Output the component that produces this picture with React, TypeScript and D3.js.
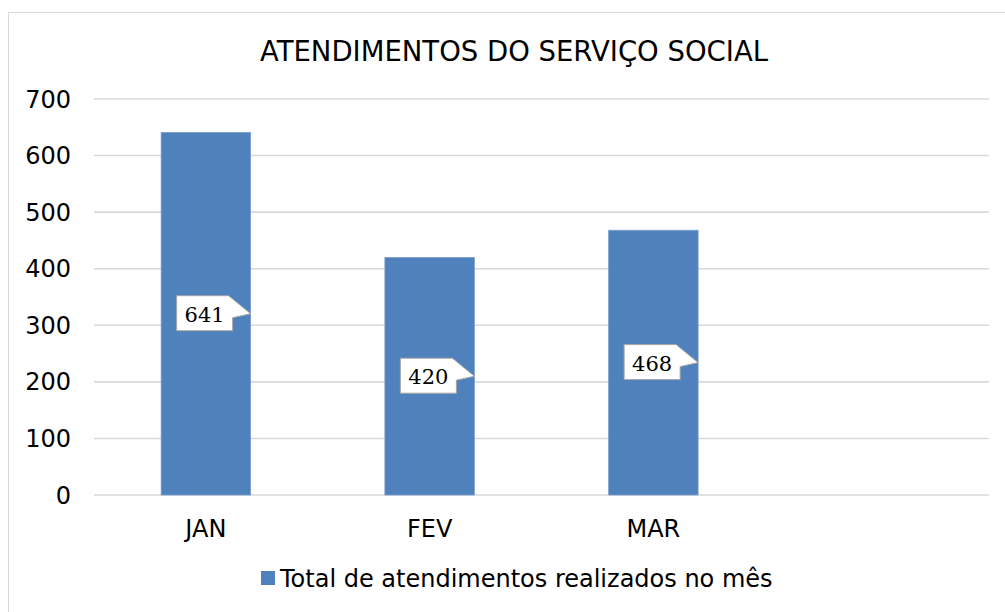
import React from "react";
import * as d3 from "d3";

const title = "ATENDIMENTOS DO SERVIÇO SOCIAL";
const categories = ["JAN", "FEV", "MAR", ""];
const values = [641, 420, 468];
const yTicks = [0, 100, 200, 300, 400, 500, 600, 700];
const seriesName = "Total de atendimentos realizados no mês";

const W = 1005;
const H = 612;
const FONT = "'DejaVu Sans', Verdana, sans-serif";

export default function App() {
  const x = d3.scaleBand<string>().domain(categories).range([94, 989]).paddingInner(0.6).paddingOuter(0.3);
  const y = d3.scaleLinear().domain([0, 700]).range([495, 99]);
  const bw = x.bandwidth();

  return (
    <svg width={W} height={H} style={{ position: "absolute", left: 0, top: 0 }}>
      <rect x={0} y={0} width={W} height={H} fill="#fff" />
      <rect x={8.5} y={12.5} width={1100} height={700} fill="#fff" stroke="#d9d9d9" strokeWidth={1} />
      <text x={514} y={61} textAnchor="middle" fontFamily={FONT} fontSize={27.5} fill="#000">
        {title}
      </text>
      {yTicks.map((t) => (
        <g key={t}>
          <line x1={94} x2={989} y1={y(t)} y2={y(t)} stroke="#d9d9d9" strokeWidth={1.6} />
          <text x={71} y={y(t)} dy="0.36em" textAnchor="end" fontFamily={FONT} fontSize={24} fill="#000">
            {t}
          </text>
        </g>
      ))}
      {values.map((v, i) => {
        const cx = x(categories[i])!;
        return (
          <rect key={i} x={cx} y={y(v)} width={bw} height={y(0) - y(v)} fill="#4f81bd" stroke="#7d9fcb" strokeWidth={0.8} />
        );
      })}
      {categories.map((c) =>
        c ? (
          <text key={c} x={x(c)! + bw / 2} y={528} dy="0.36em" textAnchor="middle" fontFamily={FONT} fontSize={24} fill="#000">
            {c}
          </text>
        ) : null
      )}
      {values.map((v, i) => {
        const tx = x(categories[i])! + bw;
        const ty = y(v / 2);
        const r = tx - 18;
        const l = tx - 74;
        const t = ty - 18;
        const b = ty + 17;
        const path = `M${l},${t} L${r - 4},${t} L${tx},${ty} L${r},${t + 22} L${r},${b} L${l},${b} Z`;
        return (
          <g key={"c" + i}>
            <path d={path} fill="#fff" stroke="#a6a6a6" strokeWidth={1} />
            <text x={(l + r) / 2} y={t + 26} textAnchor="middle" fontFamily="'DejaVu Serif', 'Liberation Serif', serif" fontSize={21} fill="#000">
              {v}
            </text>
          </g>
        );
      })}
      <rect x={261} y={571} width={14} height={14} fill="#4f81bd" />
      <text x={280} y={578} dy="0.36em" fontFamily={FONT} fontSize={24} fill="#000">
        {seriesName}
      </text>
    </svg>
  );
}
